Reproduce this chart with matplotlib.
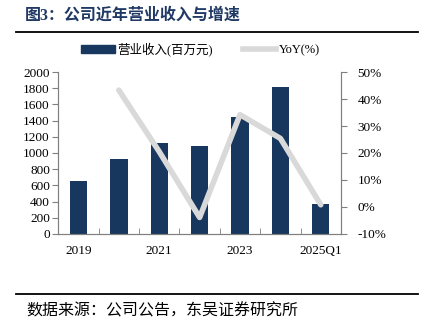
import numpy as np
import matplotlib
matplotlib.use("Agg")
import matplotlib.pyplot as plt
from matplotlib.lines import Line2D
from matplotlib.patches import Patch

plt.rcParams['font.family'] = ['Liberation Serif', 'Noto Sans CJK SC']

# data
years = ['2019', '2020', '2021', '2022', '2023', '2024', '2025Q1']
revenue = [648, 928, 1125, 1082, 1445, 1820, 368]
yoy = [None, 43.3, 20.5, -3.9, 34.2, 25.4, 0.8]

bar_color = '#17375e'
line_color = '#d9d9d9'
spine_color = '#808080'

fig = plt.figure(figsize=(4.22, 3.29), dpi=100)
ax = fig.add_axes([0.138, 0.289, 0.670, 0.492])
ax2 = ax.twinx()

x = np.arange(len(years))
ax.bar(x, revenue, width=0.43, color=bar_color, zorder=2)

yx = [i for i, v in enumerate(yoy) if v is not None]
yv = [v for v in yoy if v is not None]
ax2.plot(yx, yv, color=line_color, lw=4, solid_capstyle='round', zorder=3)

ax.set_xlim(-0.5, len(years) - 0.5)
ax.set_ylim(0, 2000)
ax.set_yticks(np.arange(0, 2001, 200))
ax2.set_ylim(-10, 50)
ax2.set_yticks(np.arange(-10, 51, 10))
ax2.set_yticklabels([f'{v}%' for v in range(-10, 51, 10)])

ax.set_xticks(x[::2])
ax.set_xticklabels(years[::2])
ax.set_xticks(np.arange(0.5, len(years) - 0.5, 1), minor=True)
ax.tick_params(axis='x', which='major', length=0, pad=8, labelsize=9.5)
ax.tick_params(axis='x', which='minor', length=4, direction='in', color=spine_color)
ax.tick_params(axis='y', length=4, color=spine_color, labelsize=9.5, pad=2)
ax2.tick_params(axis='y', length=4, color=spine_color, labelsize=9.5, pad=8)

for a in (ax, ax2):
    a.spines['top'].set_visible(False)
    for s in ('left', 'right', 'bottom'):
        a.spines[s].set_color(spine_color)
        a.spines[s].set_linewidth(0.8)
ax2.set_zorder(ax.get_zorder() + 1)
ax2.patch.set_visible(False)

handles = [Patch(color=bar_color), Line2D([0], [0], color=line_color, lw=4)]
fig.legend(handles, ['营业收入(百万元)', 'YoY(%)'], ncol=2, frameon=False,
           loc='center', bbox_to_anchor=(0.475, 0.851), fontsize=9,
           handlelength=2.7, handleheight=0.6, columnspacing=2.4, handletextpad=0.2)

fig.text(0.059, 0.952, '图3：公司近年营业收入与增速', fontsize=11.5, fontweight='bold',
         color='#1f3864', va='center', ha='left')
fig.add_artist(Line2D([0.038, 0.99], [0.904, 0.904], color='black', lw=1.3))
fig.add_artist(Line2D([0.038, 0.99], [0.106, 0.106], color='black', lw=1.3))
fig.text(0.062, 0.053, '数据来源：公司公告，东吴证券研究所', fontsize=11.5,
         va='center', ha='left', color='black')

fig.savefig('out.png', dpi=100)
